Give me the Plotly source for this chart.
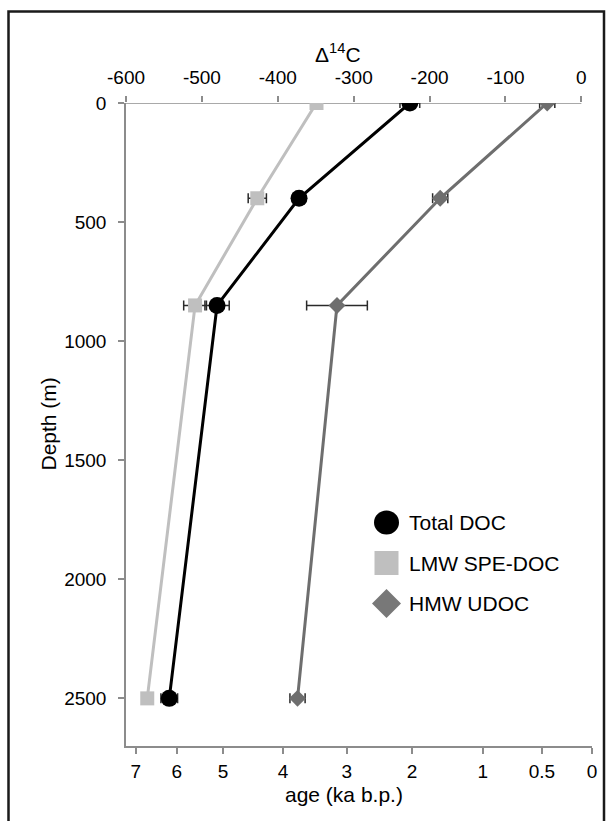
import plotly.graph_objects as go

# ---------------- data ----------------
depth_m = [0, 400, 850, 2500]

total_doc = [-226, -372, -480, -543]
total_doc_err = [13, 8, 16, 11]

lmw_spe_doc = [-349, -427, -509, -572]
lmw_spe_doc_err = [6, 12, 15, 6]

hmw_udoc = [-45, -186, -322, -374]
hmw_udoc_err = [10, 10, 40, 10]

series_names = ["Total DOC", "LMW SPE-DOC", "HMW UDOC"]

d14c_ticks = [-600, -500, -400, -300, -200, -100, 0]
age_tick_labels = ["7", "6", "5", "4", "3", "2", "1", "0.5", "0"]
age_tick_pos = [-587, -533, -472, -393, -309, -223, -130, -52, 14]
depth_ticks = [0, 500, 1000, 1500, 2000, 2500]

# ---------------- styling ----------------
FONT = "Liberation Sans, Arial, Helvetica, sans-serif"
C_TOTAL = "#000000"
C_LMW = "#bfbfbf"
C_HMW = "#6e6e6e"
AXC = "#8c8c8c"
ERRC = "#2a2a2a"

X_RANGE = [-600, 14]
Y_RANGE = [2700, 0]

fig = go.Figure()

def add_series(vals, errs, name, color, symbol, size):
    fig.add_trace(go.Scatter(
        x=vals, y=depth_m, name=name, xaxis="x2", yaxis="y",
        mode="lines+markers",
        line=dict(color=color, width=3),
        marker=dict(color=color, symbol=symbol, size=size, line=dict(width=0)),
        error_x=dict(type="data", array=errs, visible=True, color=ERRC,
                     thickness=1.5, width=5),
        showlegend=False,
    ))

add_series(lmw_spe_doc, lmw_spe_doc_err, series_names[1], C_LMW, "square", 14)
add_series(hmw_udoc, hmw_udoc_err, series_names[2], C_HMW, "diamond", 13)
add_series(total_doc, total_doc_err, series_names[0], C_TOTAL, "circle", 17)

# invisible trace so that the bottom axis subplot exists
fig.add_trace(go.Scatter(x=[None], y=[None], xaxis="x", yaxis="y",
                         showlegend=False, hoverinfo="skip"))

L, R, T, B = 126, 19, 103, 75
W, H = 611, 821
pw = W - L - R
ph = H - T - B

def px2paper_x(px):
    return (px - L) / pw

def px2paper_y(py):
    return (H - B - py) / ph

shapes = []
# top axis line (ends at the 0 tick)
shapes.append(dict(type="line", xref="x2", yref="y", x0=d14c_ticks[0], x1=d14c_ticks[-1],
                   y0=0, y1=0, line=dict(color=AXC, width=1.5), layer="below"))
# outer frame
shapes.append(dict(type="rect", xref="paper", yref="paper",
                   x0=px2paper_x(8.5), x1=px2paper_x(604),
                   y0=px2paper_y(840), y1=px2paper_y(11.5),
                   line=dict(color="#1a1a1a", width=2.5)))

# custom legend
leg_x = px2paper_x(386.5)
leg_ys = [px2paper_y(522.5), px2paper_y(563), px2paper_y(603.5)]
shapes.append(dict(type="circle", xref="paper", yref="paper", xsizemode="pixel", ysizemode="pixel",
                   xanchor=leg_x, yanchor=leg_ys[0], x0=-12.5, x1=12.5, y0=-12, y1=12,
                   fillcolor=C_TOTAL, line=dict(width=0)))
shapes.append(dict(type="rect", xref="paper", yref="paper", xsizemode="pixel", ysizemode="pixel",
                   xanchor=leg_x, yanchor=leg_ys[1], x0=-12, x1=12, y0=-12, y1=12,
                   fillcolor=C_LMW, line=dict(width=0)))
shapes.append(dict(type="path", xref="paper", yref="paper", xsizemode="pixel", ysizemode="pixel",
                   xanchor=leg_x, yanchor=leg_ys[2],
                   path="M -14.5 0 L 0 14.5 L 14.5 0 L 0 -14.5 Z",
                   fillcolor="#787878", line=dict(width=0)))

annotations = []
for name, yy in zip(series_names, leg_ys):
    annotations.append(dict(text=name, xref="paper", yref="paper", x=px2paper_x(407), y=yy,
                            xanchor="left", yanchor="middle", showarrow=False,
                            font=dict(family=FONT, size=21, color="#000")))

annotations.append(dict(text="Δ<sup>14</sup>C", xref="paper", yref="paper",
                        x=px2paper_x(337.5), y=px2paper_y(53), xanchor="center", yanchor="middle",
                        showarrow=False, font=dict(family=FONT, size=21, color="#000")))
annotations.append(dict(text="age (ka b.p.)", xref="paper", yref="paper",
                        x=px2paper_x(344), y=px2paper_y(795), xanchor="center", yanchor="middle",
                        showarrow=False, font=dict(family=FONT, size=21, color="#000")))
annotations.append(dict(text="Depth (m)", xref="paper", yref="paper",
                        x=px2paper_x(48), y=0.5, xanchor="center", yanchor="middle",
                        textangle=-90, showarrow=False,
                        font=dict(family=FONT, size=21, color="#000")))

tickfont = dict(family=FONT, size=19, color="#000")

fig.update_layout(
    width=W, height=H,
    margin=dict(l=L, r=R, t=T, b=B, pad=0),
    paper_bgcolor="white", plot_bgcolor="white",
    font=dict(family=FONT, color="#000"),
    showlegend=False,
    xaxis=dict(range=X_RANGE, tickmode="array", tickvals=age_tick_pos, ticktext=age_tick_labels,
               showline=True, linecolor=AXC, linewidth=1.5, ticks="outside", ticklen=6,
               tickcolor=AXC, tickwidth=1.5, showgrid=False, zeroline=False,
               tickfont=tickfont, side="bottom", anchor="y", ticklabelstandoff=1),
    xaxis2=dict(range=X_RANGE, tickmode="array", tickvals=d14c_ticks,
                ticktext=[str(v) for v in d14c_ticks],
                showline=False, ticks="outside", ticklen=6, tickcolor=AXC, tickwidth=1.5,
                showgrid=False, zeroline=False, tickfont=tickfont,
                side="top", overlaying="x", anchor="y", ticklabelstandoff=4),
    yaxis=dict(range=Y_RANGE, tickmode="array", tickvals=depth_ticks,
               showline=True, linecolor=AXC, linewidth=1.5, ticks="outside", ticklen=6,
               tickcolor=AXC, tickwidth=1.5, showgrid=False, zeroline=False,
               tickfont=tickfont, ticklabelstandoff=8),
    shapes=shapes,
    annotations=annotations,
)

fig.write_html("out.html")
